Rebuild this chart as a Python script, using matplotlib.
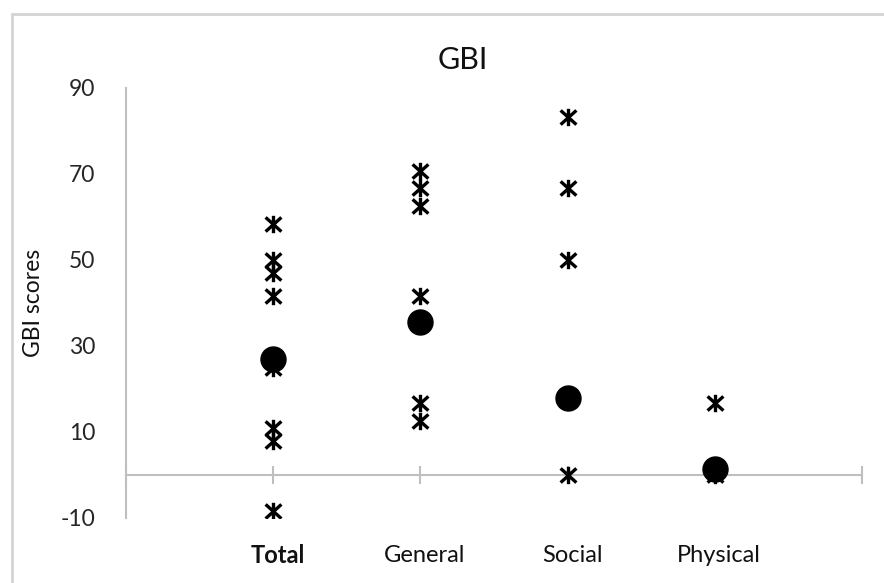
import matplotlib.pyplot as plt
from matplotlib.path import Path
from matplotlib.patches import Rectangle

plt.rcParams['font.family'] = ['Lato', 'DejaVu Sans']
plt.rcParams['axes.unicode_minus'] = False

categories = ["Total", "General", "Social", "Physical"]
positions = [1, 2, 3, 4]

# individual scores per subscale
total_scores = [58.3, 50, 47, 41.7, 25, 11, 8, -8.3]
general_scores = [70.8, 66.7, 62.5, 41.7, 16.7, 12.5]
social_scores = [83.3, 66.7, 50, 0]
physical_scores = [16.7, 0]

# group means
means = [27, 35.6, 18, 1.5]

# asterisk marker: an x with a vertical bar through it
star = Path(
    [(-1, -0.9), (1, 0.9), (-1, 0.9), (1, -0.9), (0, -1.1), (0, 1.1)],
    [Path.MOVETO, Path.LINETO, Path.MOVETO, Path.LINETO, Path.MOVETO, Path.LINETO],
)

fig = plt.figure(figsize=(8.84, 5.83), dpi=100)
ax = fig.add_axes([126 / 884, 65 / 583, 736 / 884, 430 / 583])

for pos, scores in zip(positions, [total_scores, general_scores, social_scores, physical_scores]):
    ax.plot([pos] * len(scores), scores, linestyle='none', marker=star,
            markersize=12.5, markeredgewidth=2.4, markeredgecolor='black',
            markerfacecolor='none', zorder=3)

ax.plot(positions, means, linestyle='none', marker='o', markersize=18,
        color='black', zorder=4)

ax.set_xlim(0, 5)
ax.set_ylim(-10, 90)
ax.set_yticks(range(-10, 91, 20))
ax.set_xticks(range(0, 6))
ax.set_xticklabels([])

for s in ['top', 'right']:
    ax.spines[s].set_visible(False)
ax.spines['bottom'].set_position(('data', 0))
for s in ['left', 'bottom']:
    ax.spines[s].set_color('#bfbfbf')
    ax.spines[s].set_linewidth(1.5)

ax.tick_params(axis='y', length=0, pad=22, labelsize=16.5, labelcolor='#262626')
ax.tick_params(axis='x', direction='inout', length=13, width=1.5, color='#bfbfbf')

for pos, name in zip(positions, categories):
    ax.text(pos + 0.03, -0.087, name, transform=ax.get_xaxis_transform(),
            ha='center', va='center', fontsize=17, color='#111111',
            fontweight='bold' if name == "Total" else 'normal')

ax.set_ylabel("GBI scores", fontsize=16.5, color='#111111', labelpad=12)
fig.text(463 / 884, 1 - 60 / 583, "GBI", ha='center', va='center',
         fontsize=22, color='#111111')

# light outer frame around the chart area
fig.add_artist(Rectangle((12 / 884, -0.5), 2, 0.5 + 1 - 14 / 583, fill=False,
                         edgecolor='#d4d4d4', linewidth=2,
                         transform=fig.transFigure))

fig.savefig("out.png", dpi=100)
